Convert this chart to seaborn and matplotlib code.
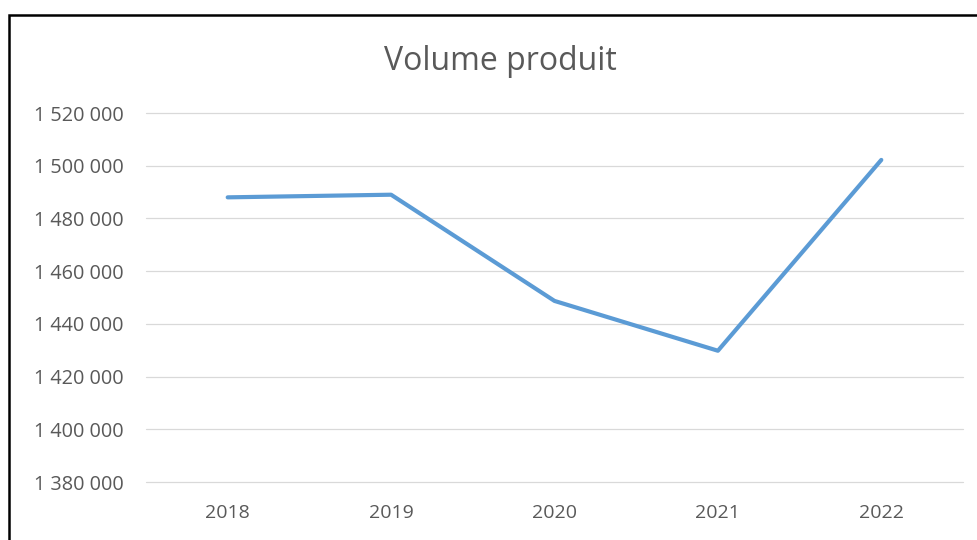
import matplotlib
matplotlib.use("Agg")
import matplotlib.pyplot as plt
import seaborn as sns
import pandas as pd
from matplotlib.ticker import FuncFormatter, FixedLocator
from matplotlib.patches import Rectangle

annees = ["2018", "2019", "2020", "2021", "2022"]
volumes = [1488000, 1489000, 1448700, 1429800, 1502200]
y_ticks = [1380000, 1400000, 1420000, 1440000, 1460000, 1480000, 1500000, 1520000]
titre = "Volume produit"

sns.set_theme(style="white")
plt.rcParams['font.family'] = ['Open Sans', 'DejaVu Sans']

df = pd.DataFrame({"annee": annees, "volume": volumes})

fig = plt.figure(figsize=(9.78, 5.40), dpi=100)
ax = fig.add_axes([146/978, 1-482/540, (963-146)/978, (482-113)/540])

sns.lineplot(data=df, x="annee", y="volume", ax=ax, color="#5B9BD5",
             linewidth=3.0, sort=False, solid_capstyle="round")

ax.set_xlim(-0.5, len(annees) - 0.5)
ax.set_ylim(y_ticks[0], y_ticks[-1])
ax.yaxis.set_major_locator(FixedLocator(y_ticks))
ax.yaxis.set_major_formatter(FuncFormatter(lambda v, p: f"{v:,.0f}".replace(",", " ")))
ax.grid(axis="y", color="#D9D9D9", linewidth=0.9)
ax.grid(axis="x", visible=False)
ax.set_axisbelow(True)
for gl in ax.yaxis.get_gridlines():
    gl.set_clip_on(False)
for s in ax.spines.values():
    s.set_visible(False)
ax.set_xlabel("")
ax.set_ylabel("")
ax.tick_params(axis="y", length=0, pad=16, labelsize=14.3, labelcolor="#595959")
ax.tick_params(axis="x", length=0, pad=16, labelsize=14, labelcolor="#595959")

fig.text(500/978, 1-62/540, titre, ha="center", va="center", fontsize=23, color="#595959")

fig.patches.append(Rectangle((9/978, -0.2), 1.0, 1.2 - 15/540, transform=fig.transFigure,
                             fill=False, edgecolor="black", linewidth=1.8, clip_on=False))

fig.savefig("out.png", dpi=100, facecolor="white")
